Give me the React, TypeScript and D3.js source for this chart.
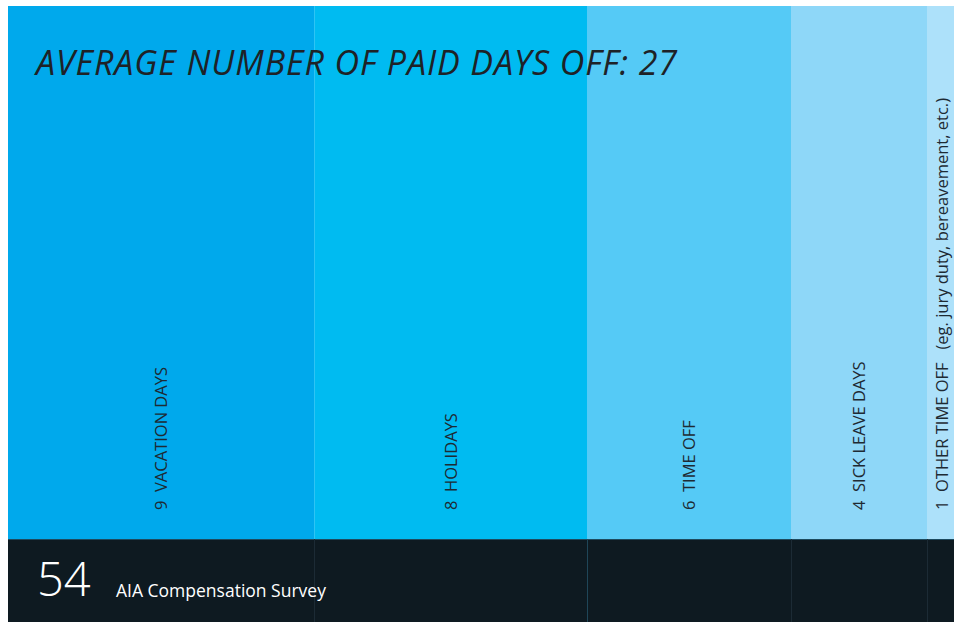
import React from 'react';
import * as d3 from 'd3';

// days off by category (average paid days)
const categories = ['VACATION DAYS', 'HOLIDAYS', 'TIME OFF', 'SICK LEAVE DAYS', 'OTHER TIME OFF'];
const days = [9, 8, 6, 4, 1];
const notes = ['', '', '', '', '(eg. jury duty, bereavement, etc.)'];
const colors = ['#00a9ec', '#00bbf1', '#55caf6', '#8ed7f8', '#ade1fa'];
const title = 'AVERAGE NUMBER OF PAID DAYS OFF: 27';
const pageNumber = '54';
const footerText = 'AIA Compensation Survey';

const W = 954;
const H = 622;
const left = 8;
const top = 6;
const bandBottom = 539;

const App = () => {
    const total = d3.sum(days);
    const x = d3.scaleLinear().domain([0, total]).range([left, left + total * 34.04]);
    const starts = d3.cumsum([0, ...days]);
    const bands = categories.map((name, i) => ({
        name,
        value: days[i],
        note: notes[i],
        color: colors[i],
        x0: Math.round(x(starts[i])),
        x1: Math.round(x(starts[i] + days[i]))
    }));
    const font = '"Open Sans", "Noto Sans", sans-serif';

    return (
        <svg
            width={W}
            height={H}
            viewBox={`0,0,${W},${H}`}
            style={{ position: 'fixed', left: 0, top: 0, background: '#fff' }}
        >
            {bands.map((b, i) => (
                <rect key={'b' + i} x={b.x0} y={top} width={b.x1 - b.x0} height={bandBottom - top} fill={b.color} />
            ))}
            {/* faint seam between first two bands */}
            <line x1={bands[1].x0 + 0.5} x2={bands[1].x0 + 0.5} y1={top} y2={bandBottom} stroke="#2ec4f4" strokeWidth={1} />
            <rect x={left} y={bandBottom} width={W - left} height={H - bandBottom} fill="#0e1a21" />
            <line x1={left} x2={W} y1={bandBottom + 0.5} y2={bandBottom + 0.5} stroke="#1d4a5e" strokeWidth={1} />
            {bands.slice(1).map((b, i) => (
                <line key={'s' + i} x1={b.x0 + 0.5} x2={b.x0 + 0.5} y1={bandBottom} y2={H}
                    stroke={i === 1 ? '#1f4658' : '#1c2b35'} strokeWidth={1} />
            ))}
            <text x={36} y={75} fontFamily={font} fontStyle="italic" fontSize={34} fill="#1e2227" letterSpacing="0.9">
                {title}
            </text>
            {bands.map((b, i) => (
                <text
                    key={'l' + i}
                    transform={`translate(${(b.x0 + Math.min(b.x1, W - 2)) / 2 + (i === 4 ? 8 : 6)},510) rotate(-90)`}
                    fontFamily={font}
                    fontSize={16.5}
                    fill="#1e2a33"
                    xmlSpace="preserve"
                >
                    {`${b.value}  ${b.name}${b.note ? '   ' + b.note : ''}`}
                </text>
            ))}
            <text x={37} y={596} fontFamily={font} fontSize={47} fontWeight={300} fill="#ffffff">{pageNumber}</text>
            <text x={116} y={597} fontFamily={font} fontSize={17.5} fill="#ffffff">{footerText}</text>
        </svg>
    );
};

export default App;
